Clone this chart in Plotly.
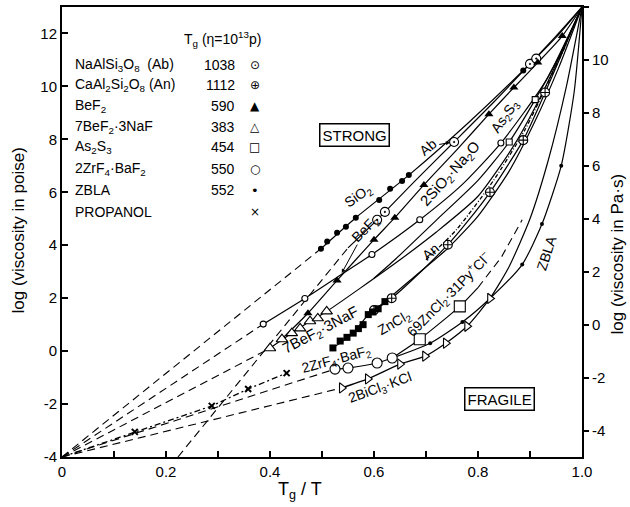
import plotly.graph_objects as go

# ---------------- data (log viscosity in poise vs Tg/T) ----------------
x_inf, y_inf = 0.0, -4.0          # common high-T limit
# SiO2
sio2_pts_x = [0.498, 0.510, 0.529, 0.546, 0.565, 0.610, 0.631, 0.654, 0.667, 0.887, 0.905]
sio2_pts_y = [3.87, 4.14, 4.47, 4.70, 5.04, 5.71, 6.13, 6.43, 6.65, 10.60, 10.95]
sio2_x = [0.498, 0.565, 0.667, 0.780, 0.887, 0.950, 1.0]
sio2_y = [3.87, 5.04, 6.65, 8.60, 10.60, 11.85, 13.0]
# NaAlSi3O8 (Ab)
ab_pts_x = [0.606, 0.621, 0.754, 0.900, 0.912]
ab_pts_y = [4.96, 5.26, 7.90, 10.85, 11.05]
ab_x = [0.550, 0.606, 0.680, 0.754, 0.830, 0.900, 0.950, 1.0]
ab_y = [3.90, 4.96, 6.45, 7.90, 9.40, 10.85, 11.90, 13.0]
ab_ext_x = [0.223, 0.550]
ab_ext_y = [-4.0, 3.90]
# BeF2
bef2_pts_x = [0.473, 0.529, 0.600, 0.640, 0.696, 0.821, 0.869, 0.915, 0.962]
bef2_pts_y = [1.43, 2.67, 4.21, 5.04, 6.28, 8.95, 9.96, 10.90, 11.90]
bef2_x = [0.425, 0.473, 0.529, 0.600, 0.640, 0.696, 0.760, 0.821, 0.869, 0.915, 0.962, 1.0]
bef2_y = [0.50, 1.43, 2.67, 4.21, 5.04, 6.28, 7.62, 8.95, 9.96, 10.90, 11.90, 13.0]
# 2SiO2.Na2O
ns_pts_x = [0.387, 0.467, 0.596, 0.688, 0.844]
ns_pts_y = [1.02, 1.99, 3.65, 4.96, 7.86]
ns_x = [0.387, 0.467, 0.535, 0.596, 0.688, 0.770, 0.844, 0.930, 1.0]
ns_y = [1.02, 1.99, 2.87, 3.65, 4.96, 6.30, 7.86, 10.20, 13.0]
# As2S3
as_pts_x = [0.860, 0.910]
as_pts_y = [7.90, 9.50]
as_x = [0.600, 0.640, 0.720, 0.800, 0.860, 0.910, 0.955, 1.0]
as_y = [2.75, 3.45, 4.95, 6.45, 7.90, 9.50, 11.10, 13.0]
# 7BeF2.3NaF
nf_pts_x = [0.400, 0.423, 0.442, 0.458, 0.477, 0.492, 0.509]
nf_pts_y = [0.11, 0.45, 0.68, 0.86, 1.13, 1.24, 1.50]
nf_x = [0.400, 0.442, 0.477, 0.509, 0.573, 0.650, 0.720, 0.800, 0.870, 0.930, 1.0]
nf_y = [0.11, 0.68, 1.13, 1.50, 2.37, 3.45, 4.50, 5.85, 7.80, 10.00, 13.0]
# CaAl2Si2O8 (An)
an_pts_x = [0.600, 0.634, 0.742, 0.823, 0.887, 0.929]
an_pts_y = [1.55, 2.00, 4.02, 6.00, 7.97, 9.77]
an_x = [0.585, 0.634, 0.690, 0.742, 0.780, 0.823, 0.887, 0.929, 0.965, 1.0]
an_y = [1.35, 2.00, 3.00, 4.02, 4.90, 6.00, 7.97, 9.77, 11.40, 13.0]
# ZnCl2
zn_pts_x = [0.521, 0.535, 0.548, 0.560, 0.570, 0.579, 0.589, 0.598, 0.608, 0.621]
zn_pts_y = [0.12, 0.38, 0.52, 0.68, 0.85, 1.00, 1.38, 1.48, 1.60, 1.87]
zn_x = [0.521, 0.560, 0.589, 0.621, 0.680, 0.740, 0.800, 0.860, 0.910, 0.955, 1.0]
zn_y = [0.12, 0.68, 1.38, 1.87, 2.85, 3.85, 5.10, 6.80, 8.70, 10.70, 13.0]
# propanol
pr_x = [0.0, 0.140, 0.288, 0.358, 0.432]
pr_y = [-4.0, -3.05, -2.07, -1.43, -0.83]
pr_hi_x = [0.700, 0.760, 0.830, 0.890, 0.930, 0.970]
pr_hi_y = [3.45, 4.62, 6.45, 8.35, 9.95, 11.60]
# 2ZrF4.BaF2 and ZBLA
zb_pts_x = [0.525, 0.550, 0.606, 0.635]
zb_pts_y = [-0.68, -0.64, -0.45, -0.26]
zb_x = [0.525, 0.550, 0.606, 0.635, 0.708, 0.770, 0.823, 0.885, 0.923, 0.960, 0.985, 1.0]
zb_y = [-0.68, -0.64, -0.45, -0.26, 0.30, 1.10, 1.99, 3.27, 4.80, 7.00, 9.80, 13.0]
zbla_pts_x = [0.708, 0.770, 0.885, 0.923, 0.960]
zbla_pts_y = [0.30, 1.10, 3.27, 4.80, 7.00]
# 2BiCl3.KCl
bc_pts_x = [0.538, 0.588, 0.650, 0.698, 0.738, 0.779, 0.823]
bc_pts_y = [-1.39, -1.05, -0.49, -0.19, 0.30, 0.94, 1.99]
bc_x = [0.538, 0.588, 0.650, 0.698, 0.738, 0.779, 0.823, 0.860, 0.900, 0.935, 0.970, 1.0]
bc_y = [-1.39, -1.05, -0.49, -0.19, 0.30, 0.94, 1.99, 3.20, 5.00, 7.20, 10.00, 13.0]
# 69ZnCl2.31PyCl
zp_pts_x = [0.688, 0.765]
zp_pts_y = [0.45, 1.69]
zp_x = [0.635, 0.688, 0.765, 0.800]
zp_y = [-0.26, 0.45, 1.69, 2.40]
zp_ext_x = [0.800, 0.845, 0.885]
zp_ext_y = [2.40, 3.55, 4.96]

# legend table
tab_names = ["NaAlSi<sub>3</sub>O<sub>8</sub>  (Ab)", "CaAl<sub>2</sub>Si<sub>2</sub>O<sub>8</sub> (An)",
             "BeF<sub>2</sub>", "7BeF<sub>2</sub>·3NaF", "As<sub>2</sub>S<sub>3</sub>",
             "2ZrF<sub>4</sub>·BaF<sub>2</sub>", "ZBLA", "PROPANOL"]
tab_tg = ["1038", "1112", "590", "383", "454", "550", "552", ""]
tab_sym = ["⊙", "⊕", "▲", "△", "□", "○", "•", "×"]
tab_rows_y = [10.80, 10.05, 9.27, 8.45, 7.70, 6.88, 6.08, 5.26]

FONT = "Liberation Sans, Arial, sans-serif"
K = "black"
fig = go.Figure()


def line(x, y, dash="solid", width=1.2, smooth=True):
    fig.add_trace(go.Scatter(x=x, y=y, mode="lines", hoverinfo="skip", showlegend=False,
                             line=dict(color=K, width=width, dash=dash,
                                       shape="spline" if smooth else "linear", smoothing=0.6)))


def ext(x1, y1, dash="8px,5px"):
    line([x_inf, x1], [y_inf, y1], dash=dash, width=1.1, smooth=False)


def marks(x, y, symbol, size, fill="white", lw=1.1):
    fig.add_trace(go.Scatter(x=x, y=y, mode="markers", hoverinfo="skip", showlegend=False,
                             marker=dict(symbol=symbol, size=size, color=fill,
                                         line=dict(color=K, width=lw))))


# dashed extrapolations
ext(sio2_x[0], sio2_y[0])
ext(ns_x[0], ns_y[0])
ext(nf_x[0], nf_y[0])
ext(zb_x[0], zb_y[0])
ext(bc_x[0], bc_y[0])
line(ab_ext_x, ab_ext_y, dash="8px,5px", width=1.1, smooth=False)
line(zp_ext_x, zp_ext_y, dash="8px,5px", width=1.1, smooth=False)
line(pr_x, pr_y, dash="6px,3px,2px,3px", width=1.3, smooth=False)
line(pr_hi_x, pr_hi_y, dash="4px,2px,1px,2px", width=1.3)

# solid curves
for xs, ys in [(sio2_x, sio2_y), (ab_x, ab_y), (bef2_x, bef2_y), (ns_x, ns_y), (as_x, as_y),
               (nf_x, nf_y), (an_x, an_y), (zn_x, zn_y), (zb_x, zb_y), (bc_x, bc_y), (zp_x, zp_y)]:
    line(xs, ys)

# markers
marks(sio2_pts_x, sio2_pts_y, "circle", 6, fill=K, lw=0)
marks(ab_pts_x, ab_pts_y, "circle-dot", 9)
marks(bef2_pts_x, bef2_pts_y, "triangle-up", 8, fill=K, lw=0)
marks(ns_pts_x, ns_pts_y, "circle", 6)
marks(as_pts_x, as_pts_y, "square", 6)
marks(nf_pts_x, nf_pts_y, "triangle-up", 10)
marks(an_pts_x, an_pts_y, "circle-cross", 9)
marks(zn_pts_x, zn_pts_y, "square", 7, fill=K, lw=0)
marks(pr_x[1:], pr_y[1:], "x-thin", 6, fill=K, lw=2)
marks(zb_pts_x, zb_pts_y, "circle", 10)
marks(zbla_pts_x, zbla_pts_y, "circle", 4, fill=K, lw=0)
marks(bc_pts_x, bc_pts_y, "triangle-right", 9)
marks(zp_pts_x, zp_pts_y, "square", 11)

# trace on the Pa.s axis (convergence point, invisible)
fig.add_trace(go.Scatter(x=[1.0], y=[12.0], yaxis="y2", mode="markers", hoverinfo="skip",
                         showlegend=False, marker=dict(opacity=0)))

ann = []


def lab(x, y, text, angle=0, size=14, **kw):
    ann.append(dict(x=x, y=y, xref="x", yref="y", text=text, textangle=angle, showarrow=False,
                    font=dict(family=FONT, size=size, color=K), **kw))


lab(0.571, 5.85, "SiO<sub>2</sub>", -35)
lab(0.748, 6.70, "2SiO<sub>2</sub>·Na<sub>2</sub>O", -48, size=15)
lab(0.852, 8.85, "As<sub>2</sub>S<sub>3</sub>", -55)
lab(0.708, 3.75, "An", -40)
lab(0.640, 1.05, "ZnCl<sub>2</sub>", -30)
lab(0.745, 2.15, "69ZnCl<sub>2</sub>·31Py<sup>+</sup>Cl<sup>−</sup>", -45)
lab(0.497, 0.78, "7BeF<sub>2</sub>·3NaF", -28, size=15)
lab(0.527, -0.34, "2ZrF<sub>4</sub>·BaF<sub>2</sub>", -15)
lab(0.612, -1.38, "2BiCl<sub>3</sub>·KCl", -20)
lab(0.932, 3.70, "ZBLA", -72)
ann.append(dict(x=0.746, y=7.88, xref="x", yref="y", text="Ab", textangle=-40, showarrow=True,
                ax=-22, ay=4, arrowhead=2, arrowsize=0.8, arrowwidth=1, arrowcolor=K,
                font=dict(family=FONT, size=14, color=K)))
ann.append(dict(x=0.538, y=2.95, xref="x", yref="y", text="BeF<sub>2</sub>", textangle=-45,
                showarrow=True, ax=24, ay=-44, arrowhead=2, arrowsize=0.8, arrowwidth=1,
                arrowcolor=K, font=dict(family=FONT, size=14, color=K)))
for x, y, t in [(0.562, 8.15, "STRONG"), (0.842, -1.80, "FRAGILE")]:
    ann.append(dict(x=x, y=y, xref="x", yref="y", text=t, showarrow=False, bordercolor=K,
                    borderwidth=1.5, borderpad=2, bgcolor="white",
                    font=dict(family=FONT, size=15, color=K)))

# legend table
lab(0.308, 11.80, "T<sub>g</sub> (η=10<sup>13</sup>p)", 0, size=14)
for name, tg, sym, yy in zip(tab_names, tab_tg, tab_sym, tab_rows_y):
    lab(0.021, yy, name, 0, size=14, xanchor="left")
    lab(0.337, yy, tg, 0, size=14, xanchor="right")
    ann.append(dict(x=0.371, y=yy, xref="x", yref="y", text=sym, showarrow=False,
                    font=dict(family="DejaVu Sans", size=12 if sym != "•" else 13, color=K)))

# axis titles
ann.append(dict(x=-0.083, y=0.503, xref="paper", yref="paper", text="log (viscosity in poise)",
                textangle=-90, showarrow=False, xanchor="center", yanchor="middle",
                font=dict(family=FONT, size=17, color=K)))
ann.append(dict(x=1.069, y=0.452, xref="paper", yref="paper", text="log (viscosity in Pa·s)",
                textangle=-90, showarrow=False, xanchor="center", yanchor="middle",
                font=dict(family=FONT, size=17, color=K)))
ann.append(dict(x=0.458, y=-0.075, xref="paper", yref="paper", text="T<sub>g</sub> / T",
                showarrow=False, xanchor="center", yanchor="middle",
                font=dict(family=FONT, size=18, color=K)))

xt = [round(0.1 * i, 1) for i in range(11)]
xl = ["0", "", "0.2", "", "0.4", "", "0.6", "", "0.8", "", "1.0"]
yt = list(range(-4, 13, 2))

fig.update_layout(
    template="none",
    width=630, height=507, margin=dict(l=62, r=48, t=7, b=50, autoexpand=False),
    paper_bgcolor="white", plot_bgcolor="white", showlegend=False,
    annotations=ann,
    xaxis=dict(range=[0, 1], automargin=False, showgrid=False, zeroline=False, showline=True,
               linewidth=2, linecolor=K, mirror=True, ticks="inside", ticklen=6, tickwidth=1.5,
               tickcolor=K, tickvals=xt, ticktext=xl, tickfont=dict(family=FONT, size=15, color=K)),
    yaxis=dict(range=[-4, 13.0], automargin=False, showgrid=False, zeroline=False, showline=True,
               linewidth=2, linecolor=K, ticks="inside", ticklen=6, tickwidth=1.5, tickcolor=K,
               tickvals=yt, ticktext=[str(v) for v in yt],
               tickfont=dict(family=FONT, size=15, color=K)),
    yaxis2=dict(range=[-5, 12.0], automargin=False, overlaying="y", side="right", showgrid=False,
                zeroline=False, showline=True, linewidth=2, linecolor=K, ticks="outside",
                ticklen=5, tickwidth=1.5, tickcolor=K, tickvals=yt,
                ticktext=[str(v) for v in yt], tickfont=dict(family=FONT, size=15, color=K)),
)

fig.write_html("out.html", config={"displayModeBar": False},
               post_script="document.body.style.margin='0';")
